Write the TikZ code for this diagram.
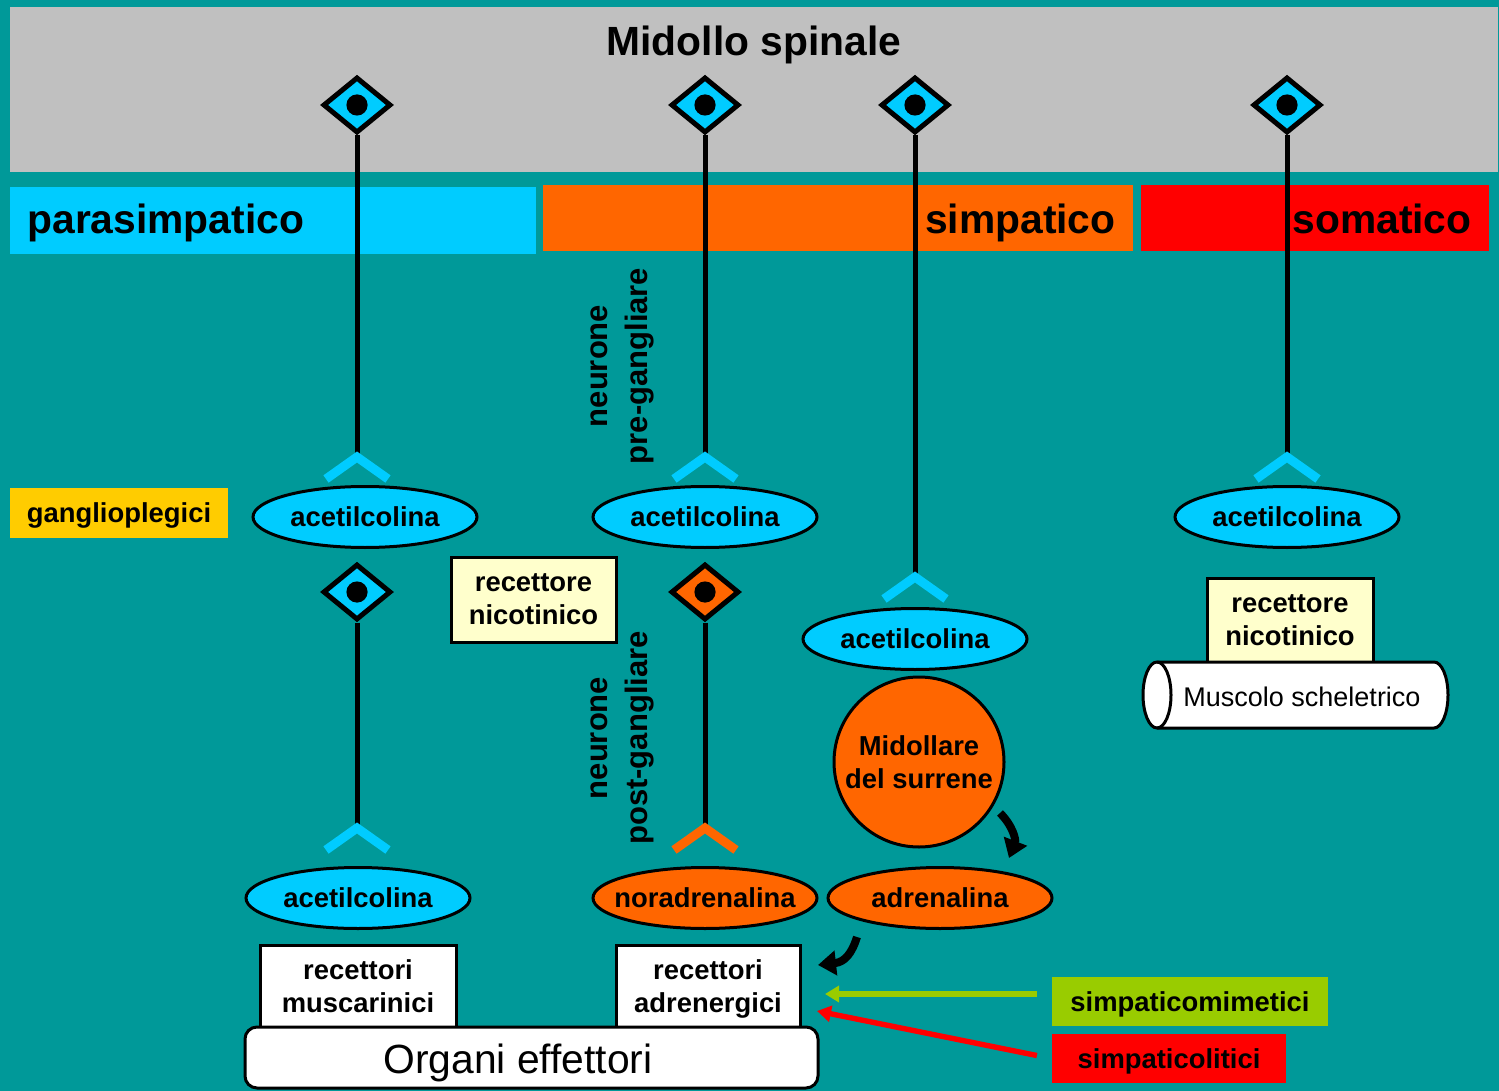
\documentclass[tikz,border=0pt]{standalone}
\usepackage{fontspec}
\setmainfont{Liberation Sans}
\usetikzlibrary{shapes.geometric,arrows.meta}
\definecolor{bgteal}{HTML}{009999}
\definecolor{cordgray}{HTML}{C0C0C0}
\definecolor{paracyan}{HTML}{00CCFF}
\definecolor{symorange}{HTML}{FF6600}
\definecolor{somred}{HTML}{FF0000}
\definecolor{gangyellow}{HTML}{FFCC00}
\definecolor{nicocream}{HTML}{FFFFCC}
\definecolor{mimgreen}{HTML}{99CC00}

\begin{document}
\begin{tikzpicture}[x=0.5pt,y=-0.5pt,
  band/.style={fill=#1, draw=none},
  bandtext/.style={font=\fontsize{20.4}{24}\selectfont\bfseries, inner sep=0pt},
  lbl/.style={font=\fontsize{13.7}{16.5}\selectfont\bfseries, align=center},
  plain/.style={font=\fontsize{13.5}{16.5}\selectfont, align=center},
  soma/.style={diamond, draw=black, line width=2.5pt, fill=#1,
    minimum width=34pt, minimum height=28pt, inner sep=0pt},
  axon/.style={draw=black, line width=2.5pt},
  recep/.style={draw=#1, line width=4.5pt, miter limit=10},
  transm/.style={ellipse, draw=black, line width=1.5pt, fill=#1,
    minimum width=112pt, minimum height=30.5pt, inner sep=0pt},
  recbox/.style={draw=black, line width=1.5pt, fill=#1, lbl, inner sep=0pt, text depth=0pt},
  tagbox/.style={fill=#1, lbl, inner sep=0pt, text depth=0pt},
  vlabel/.style={font=\fontsize{15.5}{20}\selectfont\bfseries, align=center, rotate=90, inner sep=0pt},
  curv/.style={draw=black, line width=4pt, -{Triangle[length=9pt,width=12pt]}},
  drug/.style={draw=#1, line width=2.7pt, -{Triangle[length=7pt,width=8pt]}},
]

% canvas
\fill[bgteal] (0,0) rectangle (1499,1091);
\useasboundingbox (0,0) rectangle (1499,1091);

% spinal cord and the three divisions
\fill[band=cordgray] (10,7) rectangle (1498,172);
\node[bandtext, anchor=base] (cord) at (754,56) {Midollo spinale};
\fill[band=paracyan] (10,187) rectangle (536,254);
\fill[band=symorange] (543,185) rectangle (1133,251);
\fill[band=somred] (1141,185) rectangle (1489,251);
\node[bandtext, anchor=base west] (para) at (27,234) {parasimpatico};
\node[bandtext, anchor=base east] (simp) at (1116,234) {simpatico};
\node[bandtext, anchor=base east] (soma) at (1472,234) {somatico};

% receptor endings (apex points)
\coordinate (r1) at (357,457);
\coordinate (r2) at (705,457);
\coordinate (r3) at (915,577);
\coordinate (r4) at (1287,457);
\coordinate (r5) at (357,828);
\coordinate (r6) at (705,828);

% axons
\node[soma=paracyan] (d1) at (357,105) {};
\node[soma=paracyan] (d2) at (705,105) {};
\node[soma=paracyan] (d3) at (915,105) {};
\node[soma=paracyan] (d4) at (1287,105) {};
\node[soma=paracyan] (d5) at (357,592) {};
\node[soma=symorange] (d6) at (705,592) {};
\foreach \d/\r in {d1/r1,d2/r2,d3/r3,d4/r4,d5/r5,d6/r6}{
  \draw[axon] (\d.south) -- (\r);
  \fill[black] (\d.center) circle (5.3pt);
}

% receptor chevrons
\foreach \r/\c in {r1/paracyan,r2/paracyan,r3/paracyan,r4/paracyan,r5/paracyan,r6/symorange}{
  \draw[recep=\c] ([shift={(-31,22)}]\r) -- (\r) -- ([shift={(31,22)}]\r);
}

% neurotransmitters
\node[transm=paracyan, label={[lbl]center:acetilcolina}] (e1) at (365,517) {};
\node[transm=paracyan, label={[lbl]center:acetilcolina}] (e2) at (705,517) {};
\node[transm=paracyan, label={[lbl]center:acetilcolina}] (e3) at (915,639) {};
\node[transm=paracyan, label={[lbl]center:acetilcolina}] (e4) at (1287,517) {};
\node[transm=paracyan, label={[lbl]center:acetilcolina}] (e5) at (358,898) {};
\node[transm=symorange, label={[lbl]center:noradrenalina}] (e6) at (705,898) {};
\node[transm=symorange, label={[lbl]center:adrenalina}] (e7) at (940,898) {};

% adrenal medulla
\node[circle, draw=black, line width=1.5pt, fill=symorange, minimum size=85pt,
  inner sep=0pt, lbl] (adr) at (919,762) {Midollare\\del surrene};

% neuron labels
\node[vlabel] (pre) at (622,366) {neurone\\pre-gangliare};
\node[vlabel] (post) at (622,738) {neurone\\post-gangliare};

% blockers and receptors
\node[tagbox=gangyellow, minimum width=109pt, minimum height=25pt] (gang) at (119,513) {ganglioplegici};
\node[recbox=nicocream, minimum width=82.5pt, minimum height=42.5pt] (nic1) at (533.5,599.5) {recettore\\nicotinico};

% skeletal muscle
\node[recbox=nicocream, minimum width=83pt, minimum height=42pt] (nic2) at (1290,620) {recettore\\nicotinico};
\filldraw[fill=white, draw=black, line width=1.5pt]
  (1157,662) -- (1434,662) arc[start angle=90, end angle=-90, x radius=7pt, y radius=16.5pt]
  -- (1157,728) arc[start angle=270, end angle=90, x radius=7pt, y radius=16.5pt] -- cycle;
\draw[black, line width=1.5pt] (1157,662) arc[start angle=90, end angle=-90, x radius=7pt, y radius=16.5pt];
\node[plain] (musc) at (1302,697) {Muscolo scheletrico};

% effector organs
\node[recbox=white, minimum width=98pt, minimum height=41pt] (musca) at (358,986) {recettori\\muscarinici};
\node[recbox=white, minimum width=92pt, minimum height=41pt] (adre) at (708,986) {recettori\\adrenergici};
\node[draw=black, line width=1.5pt, fill=white, rounded corners=6pt,
  minimum width=286.5pt, minimum height=30.5pt, inner sep=0pt] (org) at (531.5,1057.5) {};
\node[font=\fontsize{20.4}{24}\selectfont, inner sep=0pt] (orgtxt) at (518,1063) {Organi effettori};

% adrenaline release
\coordinate (a1s) at (1000,813);
\coordinate (a1e) at (1009,858);
\draw[curv] (a1s) .. controls (1013,826) and (1016,840) .. (a1e);
\coordinate (a2s) at (857,937);
\coordinate (a2e) at (818,965);
\draw[curv] (a2s) .. controls (852,953) and (845,962) .. (a2e);

% drugs
\node[tagbox=mimgreen, minimum width=138pt, minimum height=24.5pt] (mim) at (1190,1001.5) {simpaticomimetici};
\node[tagbox=somred, minimum width=117pt, minimum height=24.5pt] (lit) at (1169,1058.5) {simpaticolitici};
\coordinate (mimtip) at (825,994);
\coordinate (littip) at (817,1011);
\draw[drug=mimgreen, shorten <=7.5pt] (mim.west |- mimtip) -- (mimtip);
\draw[drug=somred, shorten <=7.5pt] (lit.west) -- (littip);

\end{tikzpicture}
\end{document}
